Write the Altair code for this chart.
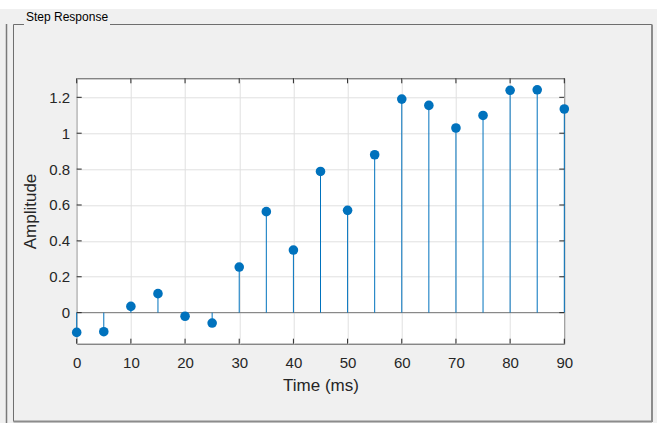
import altair as alt
import pandas as pd

# ---- data ----
time_ms = [0, 5, 10, 15, 20, 25, 30, 35, 40, 45, 50, 55, 60, 65, 70, 75, 80, 85, 90]
amplitude = [-0.110, -0.106, 0.035, 0.106, -0.020, -0.058, 0.254, 0.563, 0.349, 0.787,
             0.570, 0.880, 1.190, 1.155, 1.029, 1.099, 1.239, 1.242, 1.135]
x_ticks = [0, 10, 20, 30, 40, 50, 60, 70, 80, 90]
y_ticks = [0, 0.2, 0.4, 0.6, 0.8, 1.0, 1.2]
x_title = "Time (ms)"
y_title = "Amplitude"
panel_title = "Step Response"

# ---- layout ----
PL, PT = 76.7, 78.3
W, H = 487.6, 265.4
TOTAL_W, TOTAL_H = 659, 423
PR = TOTAL_W - PL - W
PB = TOTAL_H - PT - H

BLUE = "#0072BD"
FONT = "Liberation Sans"
TXT = "#262626"

df = pd.DataFrame({"t": time_ms, "amp": amplitude})
xt = pd.DataFrame({"t": x_ticks})
yt = pd.DataFrame({"amp": y_ticks})
one = pd.DataFrame({"k": [0]})

xs = alt.Scale(domain=[0, 90], nice=False, zero=False)
ys = alt.Scale(domain=[-0.173, 1.306], nice=False, zero=False)

x_axis = alt.Axis(
    values=x_ticks, format="d", grid=True, gridColor="#e0e0e0", gridWidth=1,
    ticks=False, tickSize=0, domain=False, labelFlush=False, labelOverlap=False,
    labelFont=FONT, labelFontSize=15, labelColor=TXT,
    labelBaseline="alphabetic", labelPadding=23.6,
    title=x_title, titleFont=FONT, titleFontSize=17, titleFontWeight="normal",
    titleColor=TXT, titleBaseline="alphabetic", titleY=46.3)
y_axis = alt.Axis(
    values=y_ticks, format="~g", grid=True, gridColor="#e0e0e0", gridWidth=1,
    ticks=False, tickSize=0, domain=False, labelFlush=False, labelOverlap=False,
    labelFont=FONT, labelFontSize=15, labelColor=TXT, labelPadding=7,
    title=y_title, titleFont=FONT, titleFontSize=17, titleFontWeight="normal",
    titleColor=TXT, titleAngle=270, titleBaseline="alphabetic",
    titleAlign="center", titleX=-41.3, titleY=H / 2)

X = alt.X("t:Q", scale=xs, axis=x_axis)
Y = alt.Y("amp:Q", scale=ys, axis=y_axis)

baseline = alt.Chart(one).mark_rule(color="#7a7a7a", strokeWidth=1).encode(
    y=alt.datum(0, scale=ys, axis=y_axis),
)

stems = alt.Chart(df).mark_rule(color=BLUE, strokeWidth=1).encode(
    x=X, y=Y, y2=alt.datum(0),
)

dots = alt.Chart(df).mark_circle(color=BLUE, size=92, opacity=1).encode(
    x=X, y=Y,
)

TICK = 5
tick_style = dict(color=TXT, strokeWidth=1)
xtick_bot = alt.Chart(xt).mark_rule(**tick_style).encode(
    x=X, y=alt.value(H), y2=alt.value(H - TICK))
xtick_top = alt.Chart(xt).mark_rule(**tick_style).encode(
    x=X, y=alt.value(0), y2=alt.value(TICK))
ytick_left = alt.Chart(yt).mark_rule(**tick_style).encode(
    y=Y, x=alt.value(0), x2=alt.value(TICK))
ytick_right = alt.Chart(yt).mark_rule(**tick_style).encode(
    y=Y, x=alt.value(W), x2=alt.value(W - TICK))

# ---- GUI frame decoration (positions relative to plot origin) ----
def rx(px):
    return px - PL

def ry(py):
    return py - PT

white_top = alt.Chart(one).mark_rect(color="#ffffff").encode(
    x=alt.value(rx(0)), x2=alt.value(rx(TOTAL_W)), y=alt.value(ry(0)), y2=alt.value(ry(9)))
white_right = alt.Chart(one).mark_rect(color="#ffffff").encode(
    x=alt.value(rx(657)), x2=alt.value(rx(TOTAL_W)), y=alt.value(ry(0)), y2=alt.value(ry(TOTAL_H)))

def hline(x1, x2, y, color="#6e6e6e", w=1):
    return alt.Chart(one).mark_rule(color=color, strokeWidth=w).encode(
        x=alt.value(rx(x1)), x2=alt.value(rx(x2)), y=alt.value(ry(y)))

def vline(x, y1, y2, color="#6e6e6e", w=1):
    return alt.Chart(one).mark_rule(color=color, strokeWidth=w).encode(
        x=alt.value(rx(x)), y=alt.value(ry(y1)), y2=alt.value(ry(y2)))

frame = [
    vline(6.5, 24, TOTAL_H, color="#7a7a7a", w=1.5),
    vline(13.5, 24.5, 421.5),
    hline(13.5, 24, 24.5),
    hline(110, 652, 24.5),
    vline(652, 24.5, 422, color="#8c8c8c", w=2),
    hline(13.5, 652, 421.5, color="#8c8c8c", w=2),
]

label = alt.Chart(one).mark_text(
    text=panel_title, font=FONT, fontSize=12, color="#000000",
    align="left", baseline="alphabetic").encode(
    x=alt.value(rx(26)), y=alt.value(ry(21)))

chart = alt.layer(
    white_top, white_right, *frame, label,
    baseline, stems, dots,
    xtick_bot, xtick_top, ytick_left, ytick_right,
).properties(
    width=W, height=H,
    autosize=alt.AutoSizeParams(type="none"),
    padding={"left": PL, "top": PT, "right": PR, "bottom": PB},
    background="#f0f0f0",
).configure_view(
    fill="#ffffff", stroke="#555555", strokeWidth=1,
)

chart.save("out.html", embed_options={"renderer": "svg", "actions": False})
